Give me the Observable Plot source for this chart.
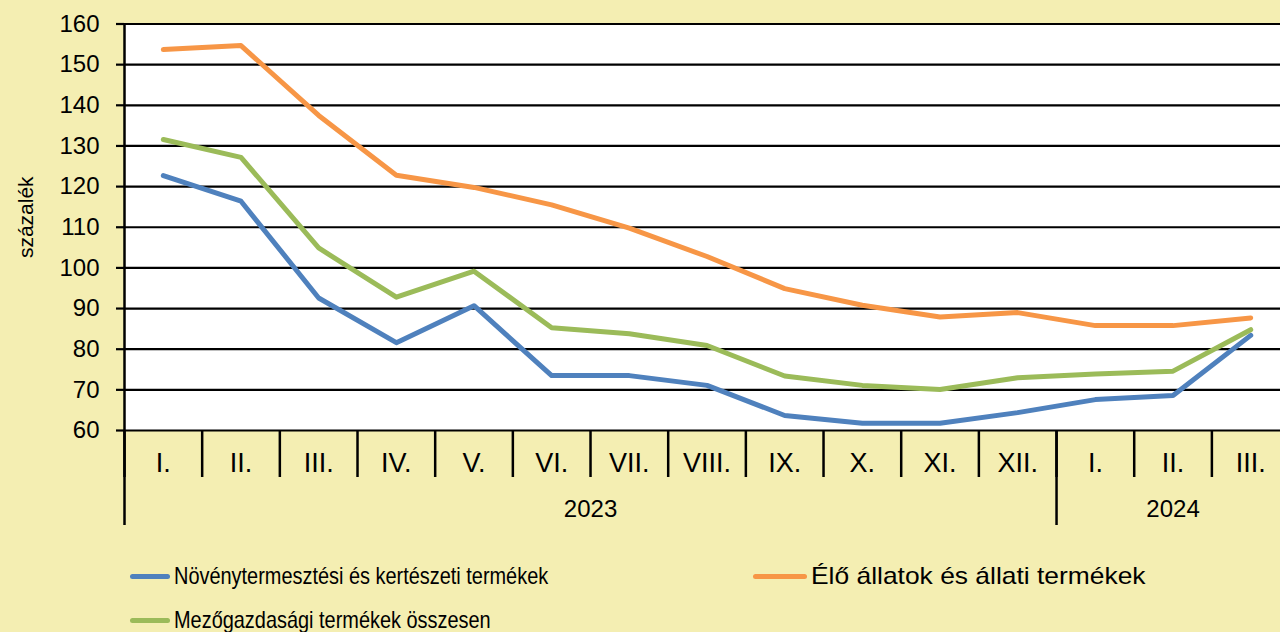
<!DOCTYPE html>
<html><head><meta charset="utf-8">
<script src="https://cdn.jsdelivr.net/npm/d3@7"></script>
<script src="https://cdn.jsdelivr.net/npm/@observablehq/plot@0.6"></script>
<style>
html,body{margin:0;padding:0;background:#F4EEB2;overflow:hidden;}
#wrap{position:relative;width:1280px;height:632px;font-family:"Liberation Sans",Arial,sans-serif;}
#chart svg{display:block;overflow:visible;background:none;}
.leg{position:absolute;display:flex;align-items:center;white-space:nowrap;color:#000;font-size:24px;height:30px;}
.sw{height:5px;border-radius:3px;}
.lt{display:inline-block;transform-origin:left center;}
</style></head>
<body><div id="wrap"><div id="chart"></div></div>
<script>
const months = ["I.","II.","III.","IV.","V.","VI.","VII.","VIII.","IX.","X.","XI.","XII.","I.","II.","III."];
const years = ["2023","2023","2023","2023","2023","2023","2023","2023","2023","2023","2023","2023","2024","2024","2024"];
const seriesNames = ["Növénytermesztési és kertészeti termékek","Élő állatok és állati termékek","Mezőgazdasági termékek összesen"];
const colors = ["#4F81BD","#F79646","#9BBB59"];
const noveny = [122.7,116.4,92.6,81.6,90.7,73.5,73.5,71.1,63.7,61.8,61.8,64.4,67.6,68.6,83.4];
const allat = [153.7,154.7,137.5,122.8,119.8,115.5,109.8,102.8,94.9,90.8,87.9,89.0,85.8,85.8,87.7];
const osszes = [131.6,127.2,104.9,92.8,99.2,85.3,83.8,80.9,73.4,71.1,70.1,73.0,73.9,74.6,84.8];
const yTicks = [60,70,80,90,100,110,120,130,140,150,160];
const yLabel = "százalék";

const seriesValues = [noveny, allat, osszes];
const data = [];
seriesValues.forEach((vals, s) => vals.forEach((v, i) => data.push({series: seriesNames[s], i, value: v})));
const idx = months.map((_, i) => i);
const dividers = idx.map(i => i - 0.5);
const yearNames = [...new Set(years)];
const yearStarts = yearNames.map(y => years.indexOf(y) - 0.5);
const yearCenters = yearNames.map(y => (years.indexOf(y) + years.lastIndexOf(y)) / 2);

const bw = 77.67, x0 = 124;
const chart = Plot.plot({
  width: 1280, height: 540,
  marginLeft: 124, marginRight: 0, marginTop: 23.5, marginBottom: 110,
  style: {fontFamily: "'Liberation Sans', Arial, sans-serif", color: "#000", background: "none", overflow: "visible"},
  x: {type: "linear", domain: [-0.5, months.length - 0.5], range: [x0, x0 + months.length * bw], axis: null},
  y: {domain: [60, 160], range: [430, 23.5], axis: null},
  color: {domain: seriesNames, range: colors},
  marks: [
    Plot.frame({fill: "white", stroke: null}),
    Plot.ruleY(yTicks, {stroke: "black", strokeWidth: 2.2}),
    Plot.axisY(yTicks, {anchor: "left", tickSize: 8, tickPadding: 17, fontSize: 24, strokeWidth: 2.2, stroke: "black", fill: "black", label: null}),
    Plot.ruleX([-0.5], {stroke: "black", strokeWidth: 2.5}),
    Plot.axisX(dividers, {anchor: "bottom", tickSize: 47, strokeWidth: 2.5, stroke: "black", text: null, label: null}),
    Plot.axisX(yearStarts, {anchor: "bottom", tickSize: 95, strokeWidth: 2.5, stroke: "black", text: null, label: null}),
    Plot.axisX(idx, {anchor: "bottom", tickSize: 0, tickPadding: 22, fontSize: 27, fill: "black", tickFormat: i => months[i], label: null}),
    Plot.axisX(yearCenters, {anchor: "bottom", tickSize: 0, tickPadding: 69, fontSize: 24, fill: "black", tickFormat: c => yearNames[yearCenters.indexOf(c)], label: null}),
    Plot.line(data, {x: "i", y: "value", z: "series", stroke: "series", strokeWidth: 5, strokeLinecap: "round", strokeLinejoin: "round"}),
    Plot.text([yLabel], {frameAnchor: "left", textAnchor: "middle", lineAnchor: "middle", text: d => d, rotate: -90, dx: -98, dy: -10, fontSize: 21, fill: "black"})
  ]
});
document.getElementById("chart").appendChild(chart);

const legendItems = [
  {s: 0, left: 130, top: 576, sw: 40, scale: 0.83},
  {s: 1, left: 753, top: 576, sw: 54, scale: 1.1},
  {s: 2, left: 130, top: 620, sw: 40, scale: 0.83}
];
const wrap = document.getElementById("wrap");
legendItems.forEach(it => {
  const d = document.createElement("div");
  d.className = "leg";
  d.style.left = it.left + "px";
  d.style.top = (it.top - 15) + "px";
  const sw = document.createElement("span");
  sw.className = "sw";
  sw.style.width = it.sw + "px";
  sw.style.background = colors[it.s];
  sw.style.marginRight = "4px";
  const t = document.createElement("span");
  t.className = "lt";
  t.textContent = seriesNames[it.s];
  t.style.transform = `scaleX(${it.scale})`;
  d.appendChild(sw); d.appendChild(t);
  wrap.appendChild(d);
});
</script>
</body></html>
